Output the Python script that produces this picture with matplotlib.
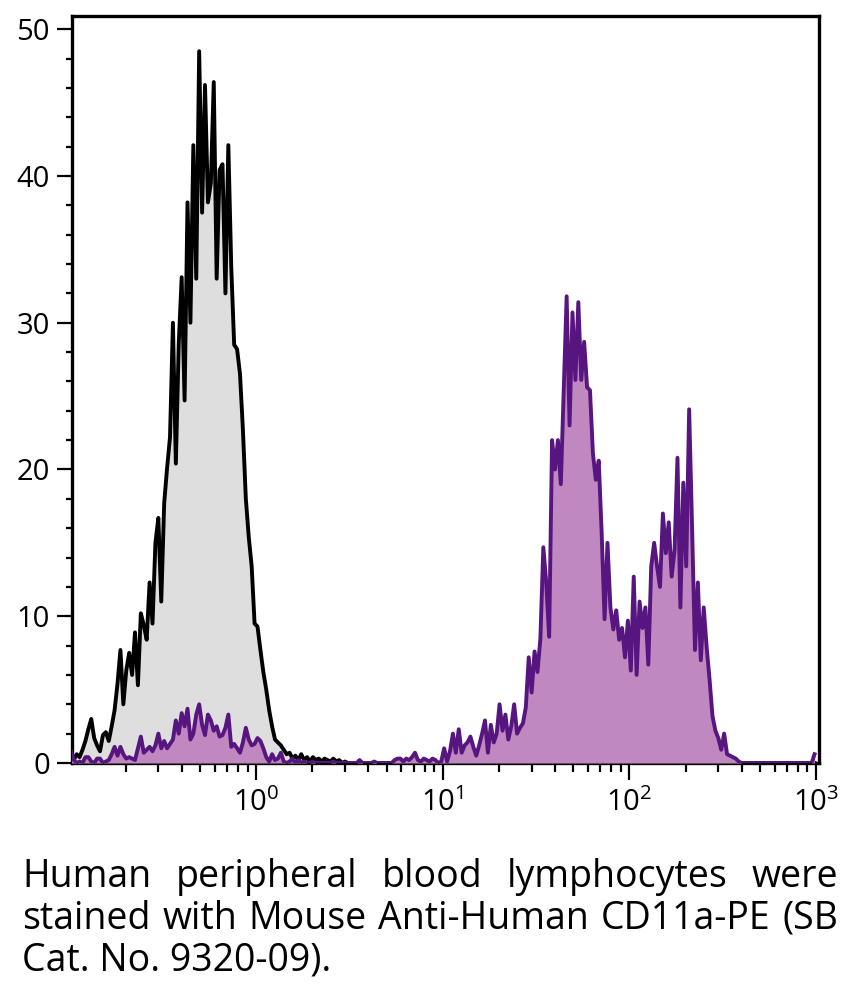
import matplotlib
matplotlib.use("Agg")
import matplotlib.pyplot as plt
import matplotlib.ticker as mticker
import numpy as np

plt.rcParams['font.family'] = ['Open Sans', 'DejaVu Sans']
plt.rcParams['mathtext.default'] = 'regular'

# histogram channels: 64 per decade, starting at 10^-1
CH_PER_DECADE = 64
LOG_START = -1.0

# isotype control (grey)
control_counts = [
    0.4, 0.2, 0.6, 0.4, 0.9, 1.5, 2.3, 3.0, 1.7, 1.2, 0.8, 1.9, 2.1, 1.5, 2.5, 3.6,
    5.4, 7.7, 4.0, 6.3, 7.5, 6.0, 8.9, 5.3, 10.2, 9.4, 8.4, 12.3, 9.5, 15.0, 16.7, 11.0,
    17.7, 20.1, 22.2, 30.0, 20.4, 28.6, 33.1, 24.7, 38.2, 30.0, 42.1, 33.0, 48.5, 37.5, 46.2, 38.2,
    39.5, 46.4, 33.0, 40.4, 40.8, 32.0, 42.1, 33.8, 28.5, 28.2, 26.5, 22.7, 18.0, 15.4, 13.4, 9.5,
    9.3, 7.7, 6.2, 5.0, 3.6, 2.5, 1.6, 1.4, 1.2, 0.9, 0.6, 0.7, 0.3, 0.5, 0.2, 0.6,
    0.2, 0.4, 0.1, 0.4, 0.2, 0.3, 0.1, 0.3, 0.2, 0.1, 0.3, 0.1, 0.2, 0.0, 0.1, 0.0,
    0, 0, 0, 0, 0, 0, 0, 0, 0, 0, 0, 0, 0, 0, 0, 0,
    0, 0, 0, 0, 0, 0, 0, 0, 0, 0, 0, 0, 0, 0, 0, 0,
    0, 0, 0, 0, 0, 0, 0, 0, 0, 0, 0, 0, 0, 0, 0, 0,
    0, 0, 0, 0, 0, 0, 0, 0, 0, 0, 0, 0, 0, 0, 0, 0,
    0, 0, 0, 0, 0, 0, 0, 0, 0, 0, 0, 0, 0, 0, 0, 0,
    0, 0, 0, 0, 0, 0, 0, 0, 0, 0, 0, 0, 0, 0, 0, 0,
    0, 0, 0, 0, 0, 0, 0, 0, 0, 0, 0, 0, 0, 0, 0, 0,
    0, 0, 0, 0, 0, 0, 0, 0, 0, 0, 0, 0, 0, 0, 0, 0,
    0, 0, 0, 0, 0, 0, 0, 0, 0, 0, 0, 0, 0, 0, 0, 0,
    0, 0, 0, 0, 0, 0, 0, 0, 0, 0, 0, 0, 0, 0, 0, 0,
]

# CD11a-PE stained (purple)
cd11a_counts = [
    0.8, 0.2, 0.0, 0.1, 0.0, 0.4, 0.4, 0.1, 0.0, 0.3, 0.3, 0.0, 0.1, 0.2, 0.6, 1.1,
    0.5, 1.1, 0.6, 0.3, 0.4, 0.3, 0.2, 1.0, 1.8, 0.7, 0.9, 1.1, 0.8, 1.2, 2.0, 1.0,
    1.5, 1.0, 1.3, 1.6, 2.9, 2.0, 3.4, 2.5, 3.7, 1.6, 2.0, 3.3, 4.0, 2.6, 1.9, 3.3,
    2.9, 2.2, 2.5, 1.8, 1.9, 2.4, 3.3, 1.1, 1.3, 1.0, 0.7, 1.4, 2.4, 1.6, 1.2, 1.3,
    1.7, 1.5, 1.0, 0.4, 0.1, 0.6, 0.2, 0.3, 0.7, 0.1, 0.0, 0.1, 0.3, 0.0, 0.2, 0.0,
    0.1, 0.0, 0.0, 0.1, 0.0, 0.0, 0.0, 0.0, 0.0, 0.0, 0.1, 0.0, 0.0, 0.0, 0.0, 0.0,
    0.0, 0.0, 0.0, 0.2, 0.0, 0.0, 0.0, 0.0, 0.1, 0.0, 0.0, 0.0, 0.0, 0.0, 0.0, 0.2,
    0.3, 0.3, 0.1, 0.3, 0.2, 0.4, 0.7, 0.2, 0.1, 0.3, 0.2, 0.1, 0.3, 0.2, 0.0, 0.1,
    1.0, 0.1, 0.8, 2.0, 0.7, 2.3, 0.7, 1.2, 1.4, 1.8, 1.1, 0.5, 1.2, 2.0, 2.9, 0.7,
    2.6, 1.4, 2.0, 4.0, 2.2, 3.3, 1.6, 2.5, 4.0, 2.0, 2.4, 2.7, 3.8, 7.2, 4.8, 7.6,
    6.2, 8.5, 14.7, 12.3, 8.6, 22.0, 20.0, 22.0, 19.0, 25.4, 31.8, 23.0, 30.7, 26.1, 31.4, 26.1,
    28.7, 25.6, 25.4, 21.1, 19.3, 20.6, 15.7, 9.8, 15.0, 10.6, 9.1, 10.4, 8.4, 9.2, 7.2, 9.7,
    6.3, 12.7, 6.0, 11.0, 9.2, 10.6, 6.7, 13.4, 15.0, 13.4, 12.0, 17.0, 14.3, 16.4, 12.7, 14.5,
    20.8, 10.6, 19.1, 13.4, 24.1, 16.1, 7.7, 12.3, 7.0, 10.6, 7.9, 5.7, 3.2, 2.2, 1.7, 0.9,
    2.0, 0.6, 0.5, 0.4, 0.3, 0.1, 0, 0, 0, 0, 0, 0, 0, 0, 0, 0,
    0, 0, 0, 0, 0, 0, 0, 0, 0, 0, 0, 0, 0, 0, 0, 0.6,
]

y_ticks = [0, 10, 20, 30, 40, 50]
x_decades = [1, 10, 100, 1000]

caption_lines = [
    "Human peripheral blood lymphocytes were",
    "stained with Mouse Anti-Human CD11a-PE (SB",
    "Cat. No. 9320-09).",
]

W, H = 847, 990
fig = plt.figure(figsize=(W / 100, H / 100), dpi=100)
ax = fig.add_axes([72 / W, 1 - 763 / H, (819 - 72) / W, (763 - 16) / H])

chan = np.arange(len(control_counts))
x = 10 ** (LOG_START + (chan + 0.5) / CH_PER_DECADE)

ax.fill_between(x, control_counts, 0, color='#dedede', lw=0, zorder=1)
ax.plot(x, control_counts, color='black', lw=2.8, zorder=2)
ax.fill_between(x, cd11a_counts, 0, color='#c088c0', lw=0, zorder=3)
ax.plot(x, cd11a_counts, color='#57167f', lw=2.8, zorder=4)

ax.set_xscale('log')
ax.set_xlim(10 ** -0.986, 10 ** 3.016)
ax.set_ylim(0, 50.9)

ax.xaxis.set_major_locator(mticker.FixedLocator(x_decades))
ax.xaxis.set_minor_locator(mticker.LogLocator(base=10, subs=np.arange(2, 10), numticks=20))
ax.xaxis.set_minor_formatter(mticker.NullFormatter())
ax.set_yticks(y_ticks)
ax.yaxis.set_minor_locator(mticker.MultipleLocator(2))

ax.tick_params(axis='x', which='major', length=12, width=1.6, pad=6, labelsize=21)
ax.tick_params(axis='x', which='minor', length=6.5, width=1.6)
ax.tick_params(axis='y', which='major', length=11, width=1.6, pad=5, labelsize=21)
ax.tick_params(axis='y', which='minor', length=4.5, width=1.6)
for s in ax.spines.values():
    s.set_linewidth(2.4)

# justified caption
r = fig.canvas.get_renderer()
X0, X1 = 22, 838
baselines = [887, 929, 970]
fs = 27
for k, line in enumerate(caption_lines):
    yy = 1 - baselines[k] / H
    if k == len(caption_lines) - 1:
        fig.text(X0 / W, yy, line, fontsize=fs, va='baseline', ha='left')
        continue
    words = line.split()
    texts = [fig.text(0, yy, w, fontsize=fs, va='baseline', ha='left') for w in words]
    widths = [t.get_window_extent(r).width for t in texts]
    gap = (X1 - X0 - sum(widths)) / (len(words) - 1)
    pos = X0
    for t, w in zip(texts, widths):
        t.set_x(pos / W)
        pos += w + gap

fig.savefig('out.png', dpi=100)
